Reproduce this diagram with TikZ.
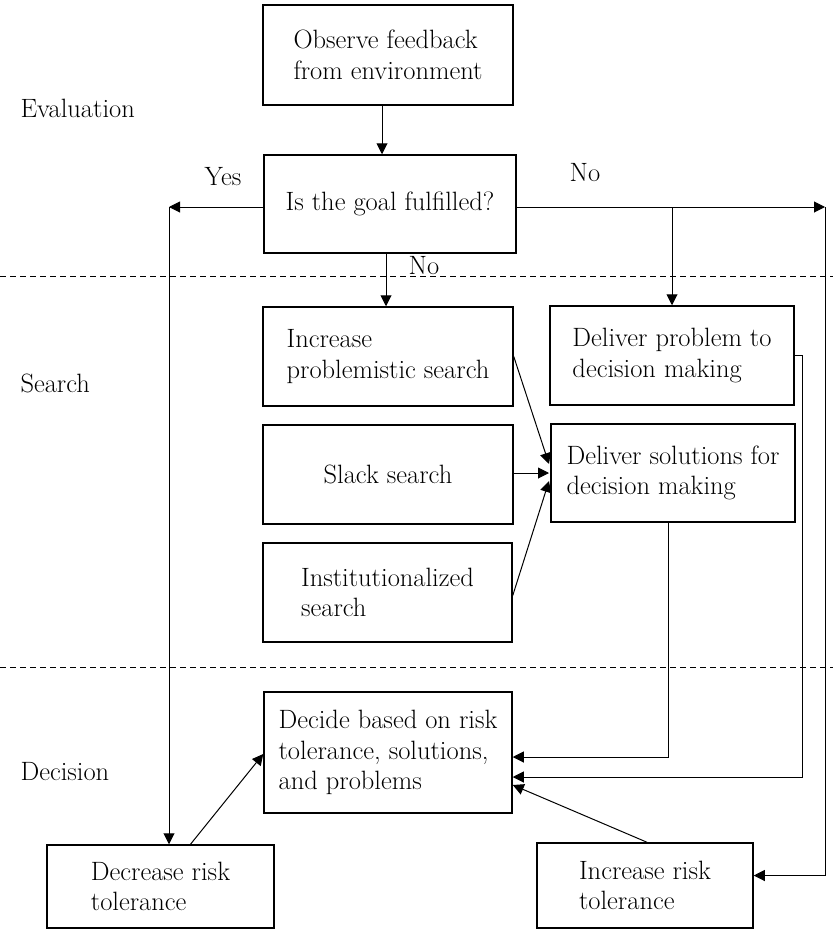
\documentclass[tikz,border=0pt]{standalone}
\usepackage{tikz}
\usetikzlibrary{arrows.meta,calc,positioning}

\begin{document}
\begin{tikzpicture}[x=1pt,y=-1pt,
  font=\fontsize{26.5}{30.5}\selectfont,
  box/.style={draw,line width=1.5pt,align=left,inner sep=0pt},
  link/.style={line width=1pt,-{Triangle[length=11pt,width=11pt]}},
  band/.style={line width=0.8pt,dash pattern=on 6pt off 4pt}]
\useasboundingbox (0,0) rectangle (833,929);

% Stage labels and separators.
\node[anchor=west] (evaltag) at (17,108) {Evaluation};
\node[anchor=west] (searchtag) at (17,383) {Search};
\node[anchor=west] (decitag) at (17,772) {Decision};
\draw[band] (0,276)--(833,276);
\draw[band] (0,667)--(833,667);

% Evaluation.
\node[box,minimum width=250,minimum height=100] (observe) at (388,55)
  {Observe feedback\\from environment};
\node[box,minimum width=252,minimum height=98] (goal) at (390,204)
  {Is the goal fulfilled?};
\node (yes) at (223,177) {Yes};
\node (noright) at (585,173) {No};
\node (nodown) at (424,266) {No};

% Search.
\node[box,minimum width=250,minimum height=99] (probsearch) at (388,356.5)
  {Increase\\problemistic search};
\node[box,minimum width=250,minimum height=99] (slack) at (388,474.5)
  {Slack search};
\node[box,minimum width=249,minimum height=99] (inst) at (387.5,592.5)
  {Institutionalized\\search};
\node[box,minimum width=244,minimum height=99] (problem) at (672,355.5)
  {Deliver problem to\\decision making};
\node[box,minimum width=244,minimum height=98] (solution) at (673,473)
  {Deliver solutions for\\decision making};

% Decision.
\node[box,minimum width=248,minimum height=121] (decide) at (388,752.5)
  {Decide based on risk\\tolerance, solutions,\\and problems};
\node[box,minimum width=227,minimum height=83] (lower) at (160.5,886.5)
  {Decrease risk\\tolerance};
\node[box,minimum width=216,minimum height=85] (raise) at (645,885.5)
  {Increase risk\\tolerance};

\coordinate (leftturn) at (169,207);
\coordinate (rightturn) at (825,207);
\coordinate (fork) at (672,207);
\coordinate (meet) at (549,473);
\coordinate (raisein) at ([yshift=10pt]raise.east);

% Connectors.
\draw[link] ([xshift=-6pt]observe.south) -- ([xshift=-6pt]observe.south |- goal.north);
\draw[link] ([xshift=-4pt]goal.south) -- ([xshift=-4pt]goal.south |- probsearch.north);
\draw[link] (goal.west |- leftturn) -- (leftturn);
\draw[link] (leftturn) -- (leftturn |- lower.north);
\draw[link] (goal.east |- rightturn) -- (rightturn);
\draw[link] (fork) -- (problem.north);
\draw[link] (rightturn) |- (raisein);
\draw[link] (slack.east |- meet) -- (meet);
\draw[link] (probsearch.east) -- ([yshift=9pt]meet);
\draw[link] ([yshift=-3pt]inst.east) -- ([yshift=-8pt]meet);
\draw[link] ([xshift=-5pt]solution.south) |- ([yshift=-4.5pt]decide.east);
\draw[link] (problem.east) -- ++(8,0) |- ([yshift=-24.5pt]decide.east);
\draw[link] ([xshift=30pt]lower.north) -- ([yshift=-1.5pt]decide.west);
\draw[link] ([xshift=2pt]raise.north) -- ([yshift=-32.5pt]decide.east);
\end{tikzpicture}
\end{document}
